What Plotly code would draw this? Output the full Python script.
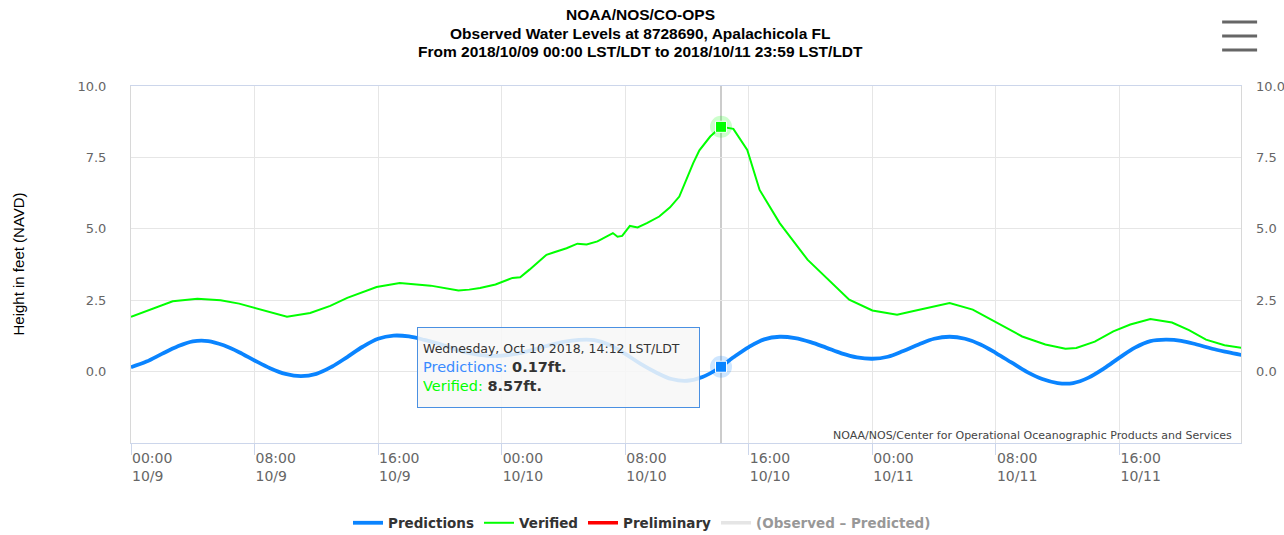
import plotly.graph_objects as go
import pandas as pd

start = pd.Timestamp("2018-10-09 00:00")

# predicted tide, hourly from 10/9 00:00
pred_times = pd.date_range(start, periods=73, freq="h")
pred_values = [0.15, 0.35, 0.62, 0.88, 1.06, 1.07, 0.92, 0.68, 0.39, 0.12,
               -0.08, -0.16, -0.08, 0.17, 0.51, 0.87, 1.15, 1.26, 1.23, 1.11,
               0.96, 0.78, 0.64, 0.56, 0.56, 0.63, 0.76, 0.91, 1.04, 1.11,
               1.10, 0.93, 0.62, 0.27, -0.03, -0.26, -0.32, -0.19, 0.10, 0.50,
               0.86, 1.13, 1.22, 1.17, 1.03, 0.84, 0.64, 0.50, 0.45, 0.52,
               0.72, 0.95, 1.15, 1.22, 1.15, 0.95, 0.65, 0.32, -0.01, -0.26,
               -0.40, -0.40, -0.21, 0.11, 0.49, 0.84, 1.07, 1.12, 1.08, 0.95,
               0.80, 0.68, 0.57]

# verified water level (hours since 10/9 00:00, feet)
ver_hours = [0, 1.2, 2.7, 4.3, 5.8, 7.0, 8.2, 9.1, 10.1, 11.6, 12.9, 14.0,
             15.9, 17.4, 19.4, 21.2, 21.9, 22.6, 23.6, 24.7, 25.2, 25.8,
             26.5, 26.9, 27.4, 28.2, 28.9, 29.5, 30.2, 30.7, 31.2, 31.5,
             31.8, 32.3, 32.8, 33.4, 34.2, 34.9, 35.5, 36.4, 36.8, 37.5,
             38.2, 39.0, 39.9, 40.7, 42.0, 43.8, 45.4, 46.5, 48.0, 49.6,
             50.6, 53.0, 54.5, 56.2, 57.7, 59.2, 60.5, 61.2, 62.4, 63.6,
             64.7, 66.0, 67.4, 68.5, 69.6, 70.8, 71.9]
ver_values = [1.92, 2.15, 2.46, 2.55, 2.50, 2.38, 2.20, 2.05, 1.92, 2.05,
              2.30, 2.58, 2.96, 3.10, 3.01, 2.84, 2.87, 2.93, 3.05, 3.28,
              3.30, 3.57, 3.90, 4.09, 4.18, 4.32, 4.48, 4.45, 4.56, 4.70,
              4.85, 4.72, 4.75, 5.10, 5.05, 5.20, 5.43, 5.75, 6.13, 7.30,
              7.75, 8.23, 8.57, 8.50, 7.76, 6.36, 5.20, 3.92, 3.10, 2.52,
              2.14, 1.99, 2.11, 2.40, 2.17, 1.68, 1.23, 0.95, 0.80, 0.83,
              1.05, 1.41, 1.65, 1.84, 1.72, 1.45, 1.12, 0.92, 0.83]
ver_times = start + pd.to_timedelta(ver_hours, unit="h")

hover_time = pd.Timestamp("2018-10-10 14:12")
hover_pred = 0.17
hover_ver = 8.57

title_lines = ["NOAA/NOS/CO-OPS",
               "Observed Water Levels at 8728690, Apalachicola FL",
               "From 2018/10/09 00:00 LST/LDT to 2018/10/11 23:59 LST/LDT"]

tick_times = pd.date_range(start, periods=9, freq="8h")
tick_text = [t.strftime("%H:%M") + "<br>" + f"{t.month}/{t.day}" for t in tick_times]
y_ticks = [0, 2.5, 5, 7.5, 10]

blue = "#0a84ff"
green = "#00ff00"

fig = go.Figure()
fig.add_trace(go.Scatter(x=pred_times, y=pred_values, name="Predictions", mode="lines",
                         line=dict(color=blue, width=3.8, shape="spline")))
fig.add_trace(go.Scatter(x=ver_times, y=ver_values, name="Verified", mode="lines",
                         line=dict(color=green, width=2)))
fig.add_trace(go.Scatter(x=[None], y=[None], name="Preliminary", mode="lines",
                         line=dict(color="#ff0000", width=3.5)))
fig.add_trace(go.Scatter(x=[None], y=[None], name="(Observed \u2013 Predicted)", mode="lines",
                         line=dict(color="#cccccc", width=3.5), visible="legendonly"))

# hover markers with halo
for val, col in [(hover_ver, green), (hover_pred, blue)]:
    fig.add_trace(go.Scatter(x=[hover_time], y=[val], mode="markers", showlegend=False,
                             marker=dict(symbol="circle", size=22, color=col, opacity=0.2)))
    fig.add_trace(go.Scatter(x=[hover_time], y=[val], mode="markers", showlegend=False,
                             marker=dict(symbol="square", size=11, color=col,
                                         line=dict(color="white", width=1))))
# dummy trace for the right axis
fig.add_trace(go.Scatter(x=[start], y=[None], yaxis="y2", showlegend=False, mode="lines"))

axis_font = dict(family="DejaVu Sans", size=13, color="#666666")

# paper coordinates: plot spans px 131..1241 horizontally, 86..443 vertically
def py(page_y):
    return (443 - page_y) / 357

annotations = [
    dict(text=f"<b>{line}</b>", xref="paper", yref="paper", x=(640 - 131) / 1110, y=py(yc),
         xanchor="center", yanchor="middle", showarrow=False,
         font=dict(family="Liberation Sans", size=15.5, color="black"))
    for line, yc in zip(title_lines, [14, 33, 52])
]
annotations += [
    dict(text="Height in feet (NAVD)", textangle=-90, xref="paper", yref="paper",
         x=(18 - 131) / 1110, y=0.5, xanchor="center", yanchor="middle", showarrow=False,
         font=dict(family="Liberation Sans", size=15, color="black")),
    dict(text="NOAA/NOS/Center for Operational Oceanographic Products and Services",
         xref="paper", yref="paper", x=(1234 - 131) / 1110, y=py(435), xanchor="right", yanchor="middle",
         showarrow=False, font=dict(family="DejaVu Sans", size=11, color="#444444")),
    dict(text="<span style='font-size:12.5px;color:#333333'>Wednesday, Oct 10 2018, 14:12 LST/LDT</span><br>"
              f"<span style='color:#3a8bff'>Predictions: </span><b>{hover_pred:.2f}ft.</b><br>"
              f"<span style='color:{green}'>Verified: </span><b>{hover_ver:.2f}ft.</b>",
         xref="paper", yref="paper", x=(417 - 131) / 1110, y=py(327), xanchor="left", yanchor="top",
         align="left", valign="middle", width=271, height=69, borderpad=5,
         bgcolor="rgba(247,247,247,0.85)", bordercolor="#4a90e2", borderwidth=1,
         showarrow=False, font=dict(family="DejaVu Sans", size=14.5, color="#333333")),
]

menu_lines = [dict(type="line", xref="paper", yref="paper", x0=0.983, x1=1.0145, y0=py(yc), y1=py(yc),
                   line=dict(color="#666666", width=3)) for yc in [22, 36, 50]]

fig.update_layout(
    width=1284, height=535,
    margin=dict(l=131, r=43, t=86, b=92, autoexpand=False),
    paper_bgcolor="white", plot_bgcolor="white",
    hovermode=False,
    xaxis=dict(range=[start, pd.Timestamp("2018-10-11 23:52")], automargin=False,
               tickvals=tick_times, ticktext=tick_text,
               tickfont=dict(family="DejaVu Sans", size=14, color="#666666"),
               ticks="outside", ticklen=11, tickcolor="#ccd6eb",
               ticklabelposition="outside right", ticklabelstandoff=2,
               showgrid=True, gridcolor="#e6e6e6",
               showline=True, linecolor="#ccd6eb", mirror=True, zeroline=False),
    yaxis=dict(range=[-2.5, 10], tickvals=y_ticks, tickformat=".1f", tickfont=axis_font,
               automargin=False, showgrid=True, gridcolor="#e6e6e6", zeroline=False,
               showline=True, linecolor="#d8d8d8", mirror=True, ticklabelstandoff=21),
    yaxis2=dict(range=[-2.5, 10], tickvals=y_ticks, tickformat=".1f", tickfont=axis_font,
                overlaying="y", side="right", anchor="x", showgrid=False, zeroline=False,
                automargin=False, ticklabelstandoff=14),
    legend=dict(orientation="h", xref="container", yref="paper",
                x=0.5, xanchor="center", y=py(523), yanchor="middle",
                font=dict(family="DejaVu Sans", size=13.5, color="#333333", weight="bold")),
    shapes=[dict(type="line", xref="x", yref="paper", x0=hover_time, x1=hover_time, y0=0, y1=1,
                 line=dict(color="#cccccc", width=2), layer="below")] + menu_lines,
    annotations=annotations,
)

# drop the browser's default body margin so the figure sits at the page corner
fig.write_html("out.html", config={"displayModeBar": False},
               post_script="document.body.style.margin='0px';")
